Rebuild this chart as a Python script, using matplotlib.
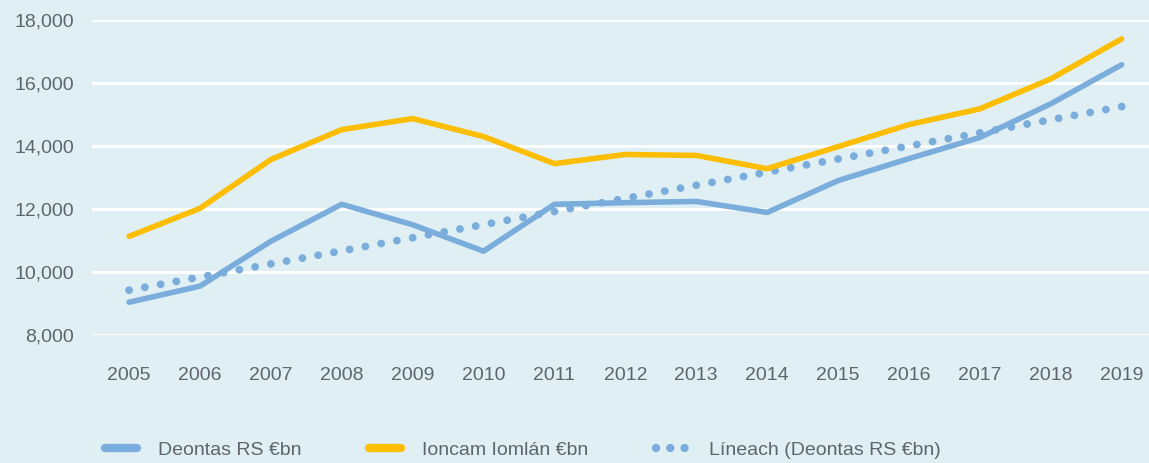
import numpy as np
import matplotlib.pyplot as plt
from matplotlib.lines import Line2D

# Blianta agus luachanna (léite ón bhfíor)
blianta = ['2005', '2006', '2007', '2008', '2009', '2010', '2011', '2012',
           '2013', '2014', '2015', '2016', '2017', '2018', '2019']
deontas = [9040, 9550, 10975, 12150, 11500, 10660, 12150, 12200,
           12240, 11890, 12900, 13600, 14270, 15340, 16580]
ioncam = [11130, 12020, 13570, 14520, 14870, 14300, 13440, 13730,
          13700, 13280, 13980, 14680, 15180, 16130, 17400]
yticks = [8000, 10000, 12000, 14000, 16000, 18000]

gorm = '#7aaddb'
buí = '#fdbd00'
cúlra = '#dfeff3'
téacs = '#5f6570'

plt.rcParams['font.family'] = ['Liberation Sans', 'DejaVu Sans']

x = np.arange(len(blianta))
# treo líneach (linear trend) of the grant series
a, b = np.polyfit(x, deontas, 1)
lineach = a * x + b

fig = plt.figure(figsize=(11.49, 4.63), dpi=100, facecolor=cúlra)
ax = fig.add_axes([0.0801, 0.2765, 0.9199, 0.6803])
ax.set_facecolor(cúlra)

ax.plot(x, lineach, color=gorm, lw=5.6, linestyle=(0, (0.01, 2.05)),
        dash_capstyle='round', clip_on=False, zorder=3)
ax.plot(x, deontas, color=gorm, lw=4, solid_capstyle='round',
        solid_joinstyle='round', clip_on=False, zorder=4)
ax.plot(x, ioncam, color=buí, lw=4, solid_capstyle='round',
        solid_joinstyle='round', clip_on=False, zorder=4)

ax.set_xlim(-0.522, 14.386)
ax.set_ylim(8000, 18000)
ax.set_xticks(x)
ax.set_xticklabels(blianta)
ax.set_yticks(yticks)
ax.set_yticklabels([f'{v:,}' for v in yticks])
ax.grid(axis='y', color='white', lw=2.2)
ax.set_axisbelow(True)
for s in ax.spines.values():
    s.set_visible(False)
ax.tick_params(axis='both', length=0, labelsize=14, colors=téacs)
ax.tick_params(axis='y', pad=13)
ax.tick_params(axis='x', pad=23)

handles = [
    Line2D([], [], color=gorm, lw=6, solid_capstyle='round'),
    Line2D([], [], color=buí, lw=6, solid_capstyle='round'),
    Line2D([], [], color=gorm, lw=6, linestyle=(0, (0.01, 1.7)),
           dash_capstyle='round'),
]
labels = ['Deontas RS €bn', 'Ioncam Iomlán €bn', 'Líneach (Deontas RS €bn)']
leg = fig.legend(handles, labels, loc='center', bbox_to_anchor=(0.455, 0.028),
                 ncol=3, frameon=False, fontsize=14, handlelength=1.65,
                 handletextpad=1.05, columnspacing=3.5)
for t in leg.get_texts():
    t.set_color(téacs)

fig.savefig('out.png', dpi=100, facecolor=cúlra)
